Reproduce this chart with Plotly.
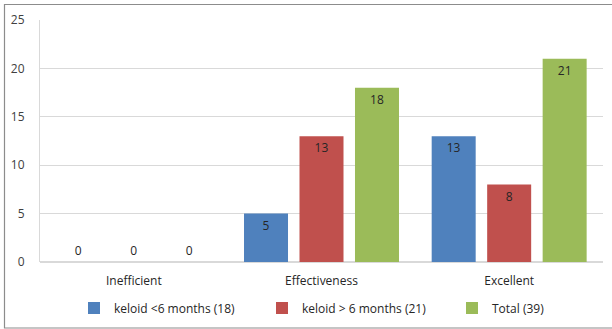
import plotly.graph_objects as go

categories = ["Inefficient", "Effectiveness", "Excellent"]
series_names = ["keloid <6 months (18)", "keloid > 6 months (21)", "Total (39)"]
keloid_lt6 = [0, 5, 13]
keloid_gt6 = [0, 13, 8]
total = [0, 18, 21]
colors = ["#4F81BD", "#C0504D", "#9BBB59"]
y_ticks = [0, 5, 10, 15, 20, 25]

FONT = "Open Sans"
legend_ids = ["legend", "legend2", "legend3"]
square_px = [97, 285, 475]  # reference legend square positions

fig = go.Figure()
for name, vals, col, lg in zip(series_names, [keloid_lt6, keloid_gt6, total], colors, legend_ids):
    fig.add_trace(go.Bar(
        x=categories, y=vals, name=name, legend=lg,
        marker=dict(color=col, line=dict(width=0)),
        text=[str(v) for v in vals],
        textposition=["outside" if v == 0 else "inside" for v in vals],
        insidetextanchor="end",
        textfont=dict(family=FONT, size=12, color="#262626"),
        cliponaxis=False,
    ))

legend_common = dict(orientation="h", xanchor="left", y=-0.19, yanchor="middle",
                     bgcolor="rgba(0,0,0,0)", itemwidth=30,
                     font=dict(family=FONT, size=12, color="#262626"))
legends = {}
for lg, sx in zip(legend_ids, square_px):
    legends[lg] = dict(legend_common, x=(sx - 9 - 40 - 14) / 563)

fig.update_layout(
    width=612, height=329,
    margin=dict(l=40, r=9, t=20, b=67, autoexpand=False),
    paper_bgcolor="white", plot_bgcolor="white",
    barmode="group", bargap=0.113, bargroupgap=0.207,
    font=dict(family=FONT, size=12, color="#404040"),
    showlegend=True,
    xaxis=dict(showline=False, ticks="", ticklabelstandoff=10,
               tickfont=dict(family=FONT, size=12, color="#262626")),
    yaxis=dict(range=[0, 25], tickvals=y_ticks, showgrid=True, gridcolor="#D9D9D9", gridwidth=1,
               showline=True, linecolor="#D9D9D9", linewidth=1, zeroline=True, zerolinecolor="#D9D9D9",
               ticks="", tickfont=dict(family=FONT, size=12, color="#404040"), ticklabelstandoff=12),
    shapes=[dict(type="rect", xref="paper", yref="paper",
                 x0=(4.5 - 40) / 563, x1=(640 - 40) / 563,
                 y0=(262 - 328) / 242, y1=(262 - 4.5) / 242,
                 line=dict(color="#8C8C8C", width=1.2), layer="below")],
    **legends,
)
fig.write_html("out.html")
